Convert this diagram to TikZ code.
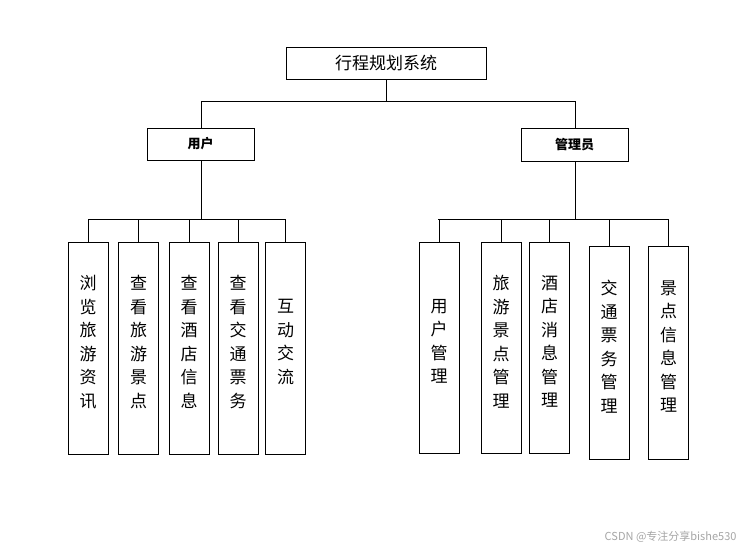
\documentclass[tikz,border=0pt]{standalone}
\usepackage{fontspec}
\setmainfont{Liberation Sans}
\newfontfamily\cjk{Noto Sans CJK SC}
\begin{document}
\begin{tikzpicture}[x=1pt,y=-1pt,
  bx/.style={draw,thick,fill=white,inner sep=0pt},
  ln/.style={thick}]
\useasboundingbox[fill=white] (0,0) rectangle (750,550);
\node[bx,minimum width=200pt,minimum height=32pt,font=\cjk\fontsize{17}{20}\selectfont] (top) at (386,63) {行程规划系统};
\node[bx,minimum width=107pt,minimum height=32pt,font=\cjk\bfseries\fontsize{13}{15}\selectfont] (user) at (200.5,144) {用户};
\node[bx,minimum width=107pt,minimum height=33pt,font=\cjk\bfseries\fontsize{13}{15}\selectfont] (adm) at (574.5,144.5) {管理员};
\coordinate (t1) at (386,101);
\coordinate (tl) at (201,101);
\coordinate (tr) at (575,101);
\draw[ln] (top.south) -- (t1);
\draw[ln] (tl) -- (tr);
\draw[ln] (tl) -- (tl|-user.north);
\draw[ln] (tr) -- (tr|-adm.north);
\coordinate (u1) at (201,219);
\coordinate (a1) at (575,219);
\draw[ln] (user.south-|u1) -- (u1);
\draw[ln] (adm.south-|a1) -- (a1);
\draw[ln] (88,219) -- (285,219);
\draw[ln] (438,219) -- (668,219);
\foreach \n/\x/\ya/\yb/\t in {
 l1/88/242/454/{浏\\览\\旅\\游\\资\\讯},
 l2/138.5/242/454/{查\\看\\旅\\游\\景\\点},
 l3/189/242/454/{查\\看\\酒\\店\\信\\息},
 l4/238/242/454/{查\\看\\交\\通\\票\\务},
 l5/285.5/242/454/{互\\动\\交\\流},
 r1/439/242/453/{用\\户\\管\\理},
 r2/501/242/453/{旅\\游\\景\\点\\管\\理},
 r3/549.5/242/453/{酒\\店\\消\\息\\管\\理},
 r4/609/246/459/{交\\通\\票\\务\\管\\理},
 r5/668.5/246/459/{景\\点\\信\\息\\管\\理}}{
  \draw[bx] (\x-20,\ya) rectangle (\x+20,\yb);
  \node[align=center,font=\cjk\fontsize{17}{23.5}\selectfont] (\n) at (\x,{(\ya+\yb)/2-6}) {\t};
  \draw[ln] (\x,219) -- (\x,\ya);
}
\node[anchor=east,text=gray!70,font=\cjk\fontsize{11}{13}\selectfont] (wm) at (740,537) {CSDN @专注分享bishe530};
\end{tikzpicture}
\end{document}
